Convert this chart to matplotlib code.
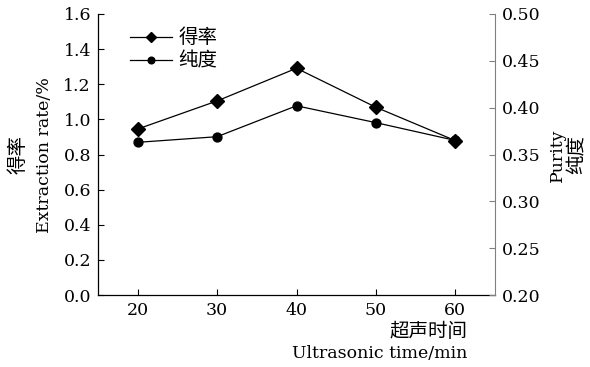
import matplotlib
matplotlib.use("Agg")
import matplotlib.pyplot as plt

plt.rcParams['font.family'] = ['DejaVu Serif', 'Noto Sans CJK SC']

times = [20, 30, 40, 50, 60]
yield_rate = [0.945, 1.105, 1.291, 1.069, 0.879]
purity = [0.363, 0.369, 0.402, 0.384, 0.365]
x_ticks = [20, 30, 40, 50, 60]
left_ticks = [0.0, 0.2, 0.4, 0.6, 0.8, 1.0, 1.2, 1.4, 1.6]
right_ticks = [0.20, 0.25, 0.30, 0.35, 0.40, 0.45, 0.50]

W, H = 590, 367
fig = plt.figure(figsize=(W/100, H/100), dpi=100)
ax = fig.add_axes([98/W, 1-295/H, 397/W, 281/H])
ax2 = ax.twinx()

l1, = ax.plot(times, yield_rate, color='black', lw=0.9, marker='D', markersize=7, label='得率')
l2, = ax2.plot(times, purity, color='black', lw=0.9, marker='o', markersize=6.4, label='纯度')

ax.set_xlim(15, 65)
ax.set_ylim(0, 1.6)
ax2.set_ylim(0.20, 0.50)
ax.set_xticks(x_ticks)
ax.set_yticks(left_ticks)
ax.set_yticklabels([f"{v:.1f}" for v in left_ticks])
ax2.set_yticks(right_ticks)
ax2.set_yticklabels([f"{v:.2f}" for v in right_ticks])

fs = 12.5
cfs = 14
for a in (ax, ax2):
    a.spines['top'].set_visible(False)
    a.tick_params(direction='in', labelsize=fs, length=4, width=0.8, pad=5)
ax.spines['right'].set_visible(False)
ax2.spines['left'].set_visible(False)
ax2.spines['bottom'].set_visible(False)
ax2.spines['right'].set_color('#808080')
ax2.tick_params(axis='y', colors='#808080', labelcolor='black')
ax.spines['left'].set_linewidth(0.9)
ax.spines['bottom'].set_linewidth(0.9)

# axis titles
yc = 1 - 155/H
fig.text(18/W, yc, '得率', rotation=90, ha='center', va='center', fontsize=cfs)
fig.text(45/W, yc, 'Extraction rate/%', rotation=90, ha='center', va='center', fontsize=fs)
fig.text(557/W, yc, 'Purity', rotation=90, ha='center', va='center', fontsize=fs)
fig.text(578/W, yc, '纯度', rotation=90, ha='center', va='center', fontsize=cfs)
fig.text(467/W, 1-332/H, '超声时间', ha='right', va='center', fontsize=cfs)
fig.text(467/W, 1-354/H, 'Ultrasonic time/min', ha='right', va='center', fontsize=fs)

ax.legend(handles=[l1, l2], loc='upper left', bbox_to_anchor=(0.06, 0.975), frameon=False,
          prop={'size': 14}, handlelength=2.2, handletextpad=0.3, labelspacing=0.25,
          borderaxespad=0, markerscale=0.75)

fig.savefig('out.png', dpi=100)
